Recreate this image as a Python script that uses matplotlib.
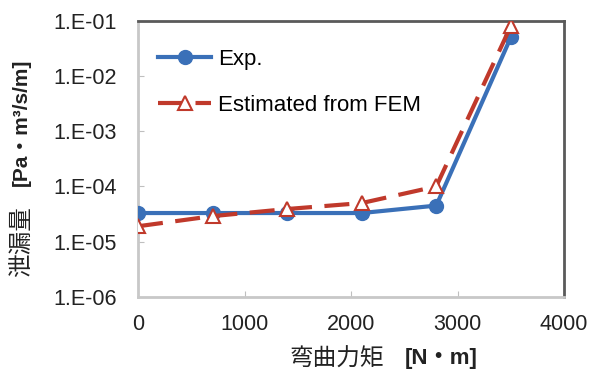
import matplotlib
matplotlib.use("Agg")
import matplotlib.pyplot as plt

# bending moment [N*m]
moment = [0, 700, 1400, 2100, 2800, 3500]
# leak rate [Pa*m3/s/m]
leak_exp = [3.3e-5, 3.3e-5, 3.3e-5, 3.3e-5, 4.5e-5, 5.0e-2]
leak_fem = [1.9e-5, 2.9e-5, 3.9e-5, 5.0e-5, 1.0e-4, 8.0e-2]

xticks = [0, 1000, 2000, 3000, 4000]
yticks = [1e-6, 1e-5, 1e-4, 1e-3, 1e-2, 1e-1]
ytick_labels = ['1.E-06', '1.E-05', '1.E-04', '1.E-03', '1.E-02', '1.E-01']

plt.rcParams['font.family'] = ['Liberation Sans', 'DejaVu Sans']

fig = plt.figure(figsize=(5.9, 3.72), dpi=100)
ax = fig.add_axes([0.234, 0.202, 0.722, 0.742])

ax.plot(moment, leak_exp, color='#3a70b8', lw=3, marker='o', ms=10,
        label='Exp.', zorder=3)
ax.plot(moment, leak_fem, color='#c0392b', lw=3, ls=(0, (6, 3)),
        marker='^', ms=10, mfc='white', mec='#c0392b', mew=1.5,
        label='Estimated from FEM', zorder=4)

ax.set_yscale('log')
ax.set_xlim(0, 4000)
ax.set_ylim(1e-6, 1e-1)
ax.set_xticks(xticks)
ax.set_yticks(yticks)
ax.set_yticklabels(ytick_labels)
ax.minorticks_off()
ax.tick_params(direction='in', length=4, color='#bfbfbf', labelsize=15.5,
               labelcolor='#222222')
ax.tick_params(axis='y', pad=15)
ax.tick_params(axis='x', pad=12)

for side in ['left', 'bottom']:
    ax.spines[side].set_color('#c8c8c8')
    ax.spines[side].set_linewidth(2)
for side in ['top', 'right']:
    ax.spines[side].set_color('#5a5a5a')
    ax.spines[side].set_linewidth(2)

leg = ax.legend(loc='upper left', frameon=False, fontsize=16,
                handlelength=2.4, labelspacing=1.1,
                bbox_to_anchor=(0.0, 0.97), handletextpad=0.3)

# axis titles: CJK part plus bold unit part
fig.text(0.49, 0.035, '弯曲力矩', family=['Noto Sans CJK JP'], fontsize=17,
         ha='left', va='center', color='#222222')
fig.text(0.81, 0.035, '[N・m]', family=['Liberation Sans', 'Noto Sans CJK JP'],
         fontsize=16, fontweight='bold', ha='right', va='center', color='#222222')
fig.text(0.036, 0.35, '泄漏量', family=['Noto Sans CJK JP'], fontsize=17,
         rotation=90, ha='center', va='center', color='#222222')
fig.text(0.036, 0.67, '[Pa・m³/s/m]', family=['Liberation Sans', 'Noto Sans CJK JP'],
         fontsize=15, fontweight='bold', rotation=90, ha='center', va='center',
         color='#222222')

fig.savefig('out.png', dpi=100)
